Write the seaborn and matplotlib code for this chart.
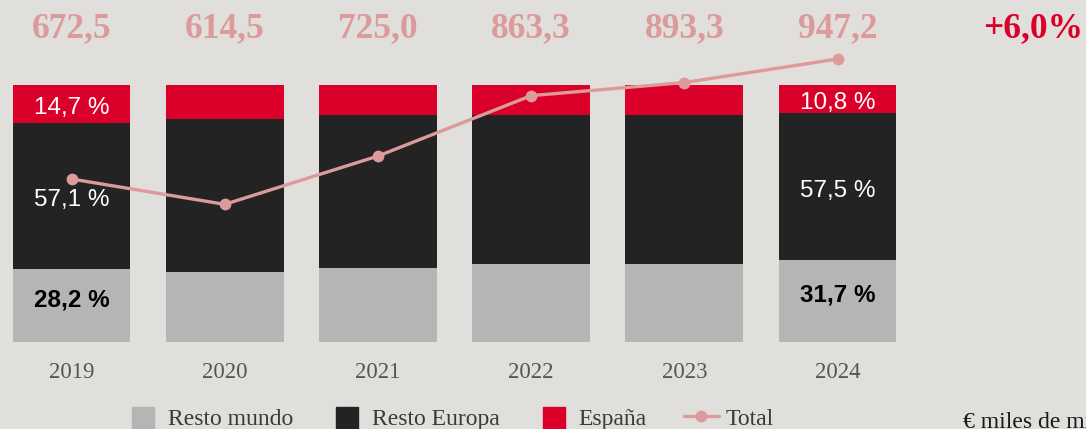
import numpy as np
import pandas as pd
import matplotlib
matplotlib.use("Agg")
import matplotlib.pyplot as plt
import matplotlib.transforms as mtransforms
from matplotlib.patches import Patch, Rectangle
from matplotlib.lines import Line2D
from matplotlib.legend_handler import HandlerPatch
from matplotlib.font_manager import FontProperties
import seaborn as sns

# ---------------- data ----------------
years = ["2019", "2020", "2021", "2022", "2023", "2024"]
espana = [14.7, 13.2, 11.7, 11.7, 11.7, 10.8]
resto_europa = [57.1, 59.8, 59.7, 58.1, 58.1, 57.5]
resto_mundo = [28.2, 27.0, 28.6, 30.2, 30.2, 31.7]
total = [672.5, 614.5, 725.0, 863.3, 893.3, 947.2]
labelled_years = ["2019", "2024"]
growth_label = "+6,0%"
unit_label = "€ miles de millones"
series_names = ["Resto mundo", "Resto Europa", "España", "Total"]

# ---------------- style ----------------
BG = "#e1dfdb"
GRAY = "#b5b5b5"
BLACK = "#232323"
RED = "#db0029"
PINK = "#dc9a9a"

sns.set_theme(style="white")
plt.rcParams["font.family"] = ["Liberation Sans", "DejaVu Sans"]

W, H = 1086, 429
fig = plt.figure(figsize=(W / 100, H / 100), dpi=100)
fig.patch.set_facecolor(BG)

bar_top_px, bar_bot_px = 85.0, 341.7
ax = fig.add_axes([0, 1 - bar_bot_px / H, 1, (bar_bot_px - bar_top_px) / H])
ax.set_facecolor(BG)

df = pd.DataFrame({
    "year": years,
    "mundo": resto_mundo,
    "europa": resto_europa,
    "espana": espana,
})
df["c_mundo"] = df["mundo"]
df["c_europa"] = df["mundo"] + df["europa"]
df["c_espana"] = df["c_europa"] + df["espana"]

bw = 0.77
for col, c in [("c_espana", RED), ("c_europa", BLACK), ("c_mundo", GRAY)]:
    sns.barplot(data=df, x="year", y=col, order=years, color=c, saturation=1,
                width=bw, linewidth=0, ax=ax, errorbar=None)

step = 153.2
x0 = 71.5
ax.set_xlim(-x0 / step, (W - x0) / step)
ax.set_ylim(0, 100)
ax.set_xlabel("")
ax.set_ylabel("")
ax.set_yticks([])
ax.set_xticks(range(len(years)))
ax.set_xticklabels(years, fontfamily="Liberation Serif", fontsize=16.5, color="#555555")
ax.tick_params(axis="x", length=0, pad=14.5)
for s in ax.spines.values():
    s.set_visible(False)

# percentage labels on first and last bar
for i, y in enumerate(years):
    if y not in labelled_years:
        continue
    r = df.iloc[i]
    ax.annotate(f"{r['espana']:.1f} %".replace(".", ","), xy=(i, r["c_europa"] + r["espana"] / 2),
                xytext=(0, -3), textcoords="offset points",
                ha="center", va="center", color="white", fontsize=17.5)
    ax.annotate(f"{r['europa']:.1f} %".replace(".", ","), xy=(i, r["mundo"] + r["europa"] / 2),
                xytext=(0, -3), textcoords="offset points",
                ha="center", va="center", color="white", fontsize=17.5)
    ax.annotate(f"{r['mundo']:.1f} %".replace(".", ","), xy=(i, r["mundo"] / 2),
                xytext=(0, 4), textcoords="offset points",
                ha="center", va="center", color="black", fontsize=17.5, fontweight="bold")

# total line on secondary axis
ax2 = ax.twinx()
ax2.set_ylim(300, 887.7)
sns.lineplot(x=np.arange(len(years)), y=total, ax=ax2, color=PINK, linewidth=2.4,
             marker="o", markersize=8.5, markeredgewidth=0, clip_on=False)
ax2.set_yticks([])
ax2.set_ylabel("")
for s in ax2.spines.values():
    s.set_visible(False)

# total values at top
trans = mtransforms.blended_transform_factory(ax.transData, fig.transFigure)
for i, v in enumerate(total):
    ax.text(i, 1 - 29 / H, f"{v:.1f}".replace(".", ","), transform=trans,
            ha="center", va="center", color=PINK, fontsize=25.5,
            fontfamily="Liberation Serif", fontweight="bold", clip_on=False)
fig.text(1033 / W, 1 - 29 / H, growth_label, ha="center", va="center", color=RED,
         fontsize=25.5, fontfamily="Liberation Serif", fontweight="bold")

fig.text(963 / W, 1 - 423 / H, unit_label, ha="left", va="center", color="#1a1a1a",
         fontsize=17, fontfamily="Liberation Serif")

# legend
def square(legend, orig_handle, xdescent, ydescent, width, height, fontsize):
    w = 22 * 72 / 100
    h = 19.0
    return Rectangle((-xdescent + (width - w) / 2, -ydescent + height / 2 - h / 2 - 2), w, h)

handles = [Patch(color=GRAY), Patch(color=BLACK), Patch(color=RED),
           Line2D([], [], color=PINK, lw=2.4, marker="o", markersize=8.5, markeredgewidth=0)]
fig.legend(handles, series_names, loc="center left",
           bbox_to_anchor=(125.5 / W, 1 - 418 / H), ncol=4, frameon=False,
           borderpad=0, borderaxespad=0, handlelength=1.48, handleheight=1.06,
           handletextpad=0.3, columnspacing=1.57,
           prop=FontProperties(family="Liberation Serif", size=17), labelcolor="#3a3a3a",
           handler_map={Patch: HandlerPatch(patch_func=square)})

fig.savefig("out.png", dpi=100, facecolor=BG)
